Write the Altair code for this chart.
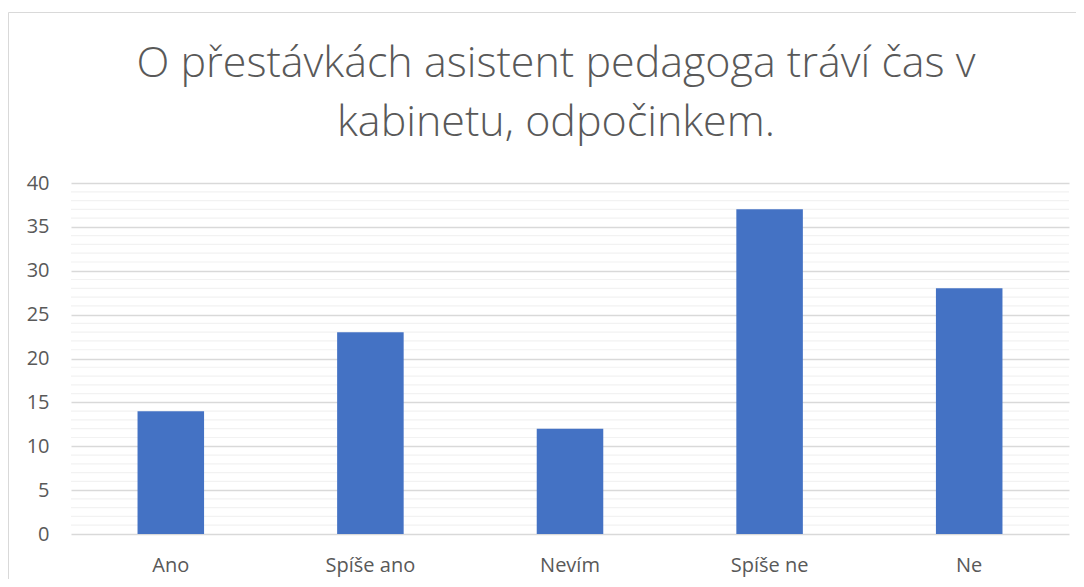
import altair as alt
import pandas as pd

categories = ["Ano", "Spíše ano", "Nevím", "Spíše ne", "Ne"]
values = [14, 23, 12, 37, 28]
minor_grid = [v for v in range(0, 41) if v % 5 != 0]

title_lines = ["O přestávkách asistent pedagoga tráví čas v", "kabinetu, odpočinkem."]

df = pd.DataFrame({"kategorie": categories, "pocet": values})
minor_df = pd.DataFrame({"pocet": minor_grid})

FONT = "Open Sans"
GRAY = "#595959"

x_scale = alt.Scale(domain=categories, paddingInner=2/3, paddingOuter=1/3)
y_scale = alt.Scale(domain=[0, 40])
y_axis = alt.Axis(title=None, values=list(range(0, 41, 5)), domain=False,
                  ticks=False, labelPadding=22, labelFont=FONT,
                  labelFontSize=20, labelColor=GRAY,
                  gridColor="#d9d9d9", gridWidth=1.5)

frame = alt.Chart(alt.Data(values=[{"a": 1}])).mark_rect(
    fill="transparent", stroke="#d9d9d9", strokeWidth=1
).encode(
    x=alt.value(-62.5), x2=alt.value(1100), y=alt.value(-170.5), y2=alt.value(600)
)

minor = alt.Chart(minor_df).mark_rule(color="#f2f2f2", strokeWidth=1.2).encode(
    y=alt.Y("pocet:Q", scale=y_scale, axis=y_axis)
)

bars = alt.Chart(df).mark_bar(color="#4472C4").encode(
    x=alt.X("kategorie:N", scale=x_scale, sort=categories,
            axis=alt.Axis(title=None, labelAngle=0, domain=False, ticks=False,
                          labelPadding=21, labelFont=FONT, labelFontSize=20,
                          labelColor=GRAY)),
    y=alt.Y("pocet:Q", scale=y_scale, axis=y_axis),
)

chart = alt.layer(frame, minor, bars).properties(
    width=998,
    height=351,
    autosize=alt.AutoSizeParams(type="none"),
    padding={"left": 63, "top": 175, "right": 7, "bottom": 45},
    title=alt.TitleParams(
        text=title_lines, font=FONT, fontSize=43, fontWeight=300, color=GRAY,
        anchor="middle", frame="group", dx=-14, offset=-133, lineHeight=59,
    ),
).configure_view(stroke=None)

chart.save("out.html", embed_options={"renderer": "svg", "actions": False})
